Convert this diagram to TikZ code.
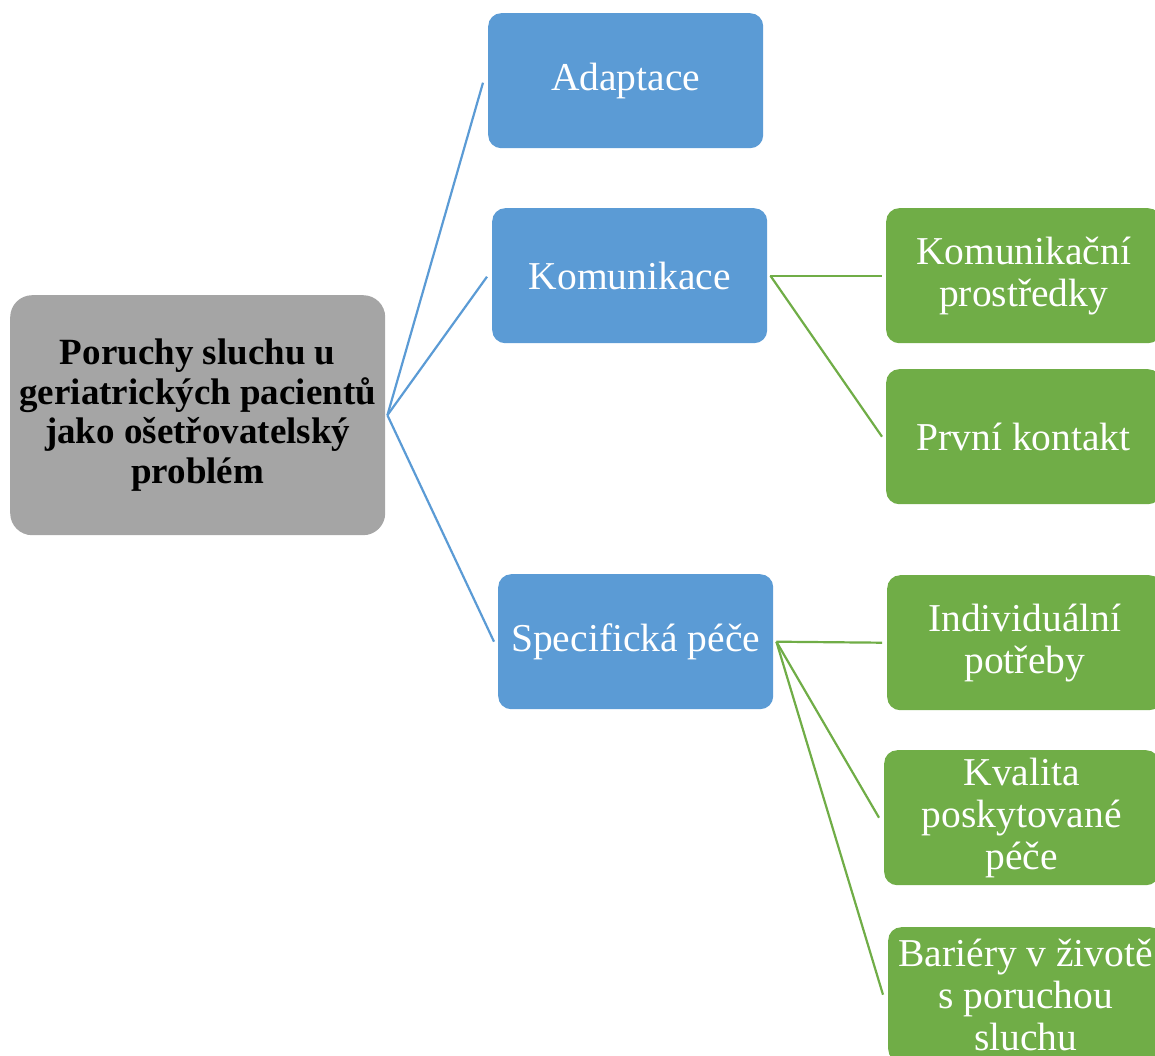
\documentclass[tikz,border=0pt]{standalone}
\usepackage{fontspec}
\setmainfont{Liberation Serif}
\definecolor{bluebox}{HTML}{5B9BD5}
\definecolor{greenbox}{HTML}{70AD47}
\definecolor{graybox}{HTML}{A5A5A5}
\begin{document}
\begin{tikzpicture}[x=1pt,y=-1pt,
  box/.style={anchor=north west, inner sep=0pt, minimum width=275pt, minimum height=135pt,
    rounded corners=13pt, align=center, text=white,
    font=\fontsize{39.5}{42}\selectfont},
  bbox/.style={box, fill=bluebox},
  gbox/.style={box, fill=greenbox},
  rootbox/.style={anchor=north west, inner sep=0pt, minimum width=375pt, minimum height=240pt,
    rounded corners=22pt, align=center, fill=graybox, text=black,
    font=\fontsize{37}{39.5}\selectfont\bfseries},
  bline/.style={draw=bluebox, line width=2.2pt},
  gline/.style={draw=greenbox, line width=2.2pt}]
\useasboundingbox (0,0) rectangle (1155,1056);
\clip (0,0) rectangle (1155,1056);
\node[rootbox] (root) at (10,295) {Poruchy sluchu u\\geriatrických pacientů\\jako ošetřovatelský\\problém};
\node[bbox] (adapt) at (488,13) {Adaptace};
\node[bbox] (komu) at (492,208) {Komunikace};
\node[bbox] (spec) at (498,574) {Specifická péče};
\node[gbox] (kp) at (886,208) {Komunikační\\prostředky};
\node[gbox] (pk) at (886,369) {První kontakt};
\node[gbox] (ip) at (887,575) {Individuální\\potřeby};
\node[gbox] (kv) at (884,750) {Kvalita\\poskytované\\péče};
\node[gbox] (ba) at (888,927) {Bariéry v životě\\s poruchou\\sluchu};
\coordinate (r) at ([xshift=2pt]root.east);
\draw[bline] (r) -- ([xshift=-5pt,yshift=-2pt]adapt.west);
\draw[bline] (r) -- ([xshift=-5pt,yshift=-1pt]komu.west);
\draw[bline] (r) -- ([xshift=-4pt]spec.west);
\coordinate (k) at ([xshift=3pt]komu.east);
\draw[gline] (k) -- ([xshift=-4pt]kp.west);
\draw[gline] (k) -- ([xshift=-4pt]pk.west);
\coordinate (s) at ([xshift=3pt]spec.east);
\draw[gline] (s) -- ([xshift=-5pt]ip.west);
\draw[gline] (s) -- ([xshift=-5pt]kv.west);
\draw[gline] (s) -- ([xshift=-5pt]ba.west);
\end{tikzpicture}
\end{document}
